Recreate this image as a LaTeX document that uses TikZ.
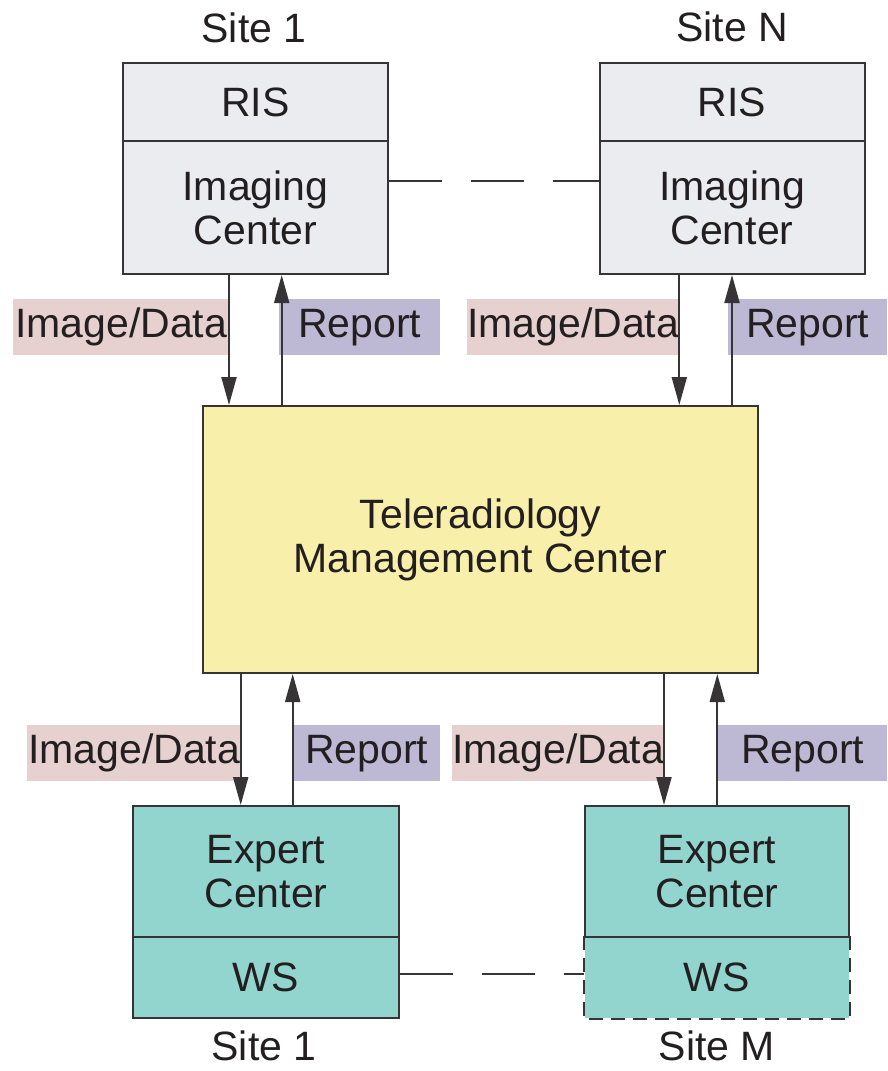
\documentclass[tikz,border=0pt]{standalone}
\usepackage{fontspec}
\setmainfont{Liberation Sans}
\usetikzlibrary{arrows.meta}
\definecolor{txt}{HTML}{231F20}
\definecolor{edge}{HTML}{363435}
\definecolor{grayfill}{HTML}{EBECF0}
\definecolor{yellowfill}{HTML}{F8F0AA}
\definecolor{tealfill}{HTML}{92D5CF}
\definecolor{pinkfill}{HTML}{E7D0D0}
\definecolor{purplefill}{HTML}{BDB8D3}
\tikzset{
  base/.style={text=txt, font=\fontsize{41}{44}\selectfont, align=center, inner sep=0pt},
  box/.style={base, draw=edge, line width=2pt},
  graybox/.style={box, fill=grayfill},
  yellowbox/.style={box, fill=yellowfill},
  tealbox/.style={box, fill=tealfill},
  lab/.style={base, inner sep=0pt, text height=29.5pt, text depth=8.5pt, minimum height=56pt, anchor=north west},
  imglab/.style={lab, fill=pinkfill},
  replab/.style={lab, fill=purplefill},
  arr/.style={draw=edge, line width=2pt, -{Triangle[length=28pt,width=15pt]}},
  longdash/.style={draw=edge, line width=2pt, dash pattern=on 53pt off 29pt},
  sitelab/.style={base, anchor=base},
}
\begin{document}
\begin{tikzpicture}[x=1pt, y=-1pt]
\useasboundingbox (0,0) rectangle (887,1071);

% top sites
\node[sitelab] (site1t) at (254,42) {Site 1};
\node[sitelab] (siteN) at (732,41) {Site N};

\node[graybox, minimum width=265pt, minimum height=79pt] (ris1) at (255.5,102.5) {RIS};
\node[graybox, minimum width=265pt, minimum height=133pt] (ic1) at (255.5,207.5) {Imaging\\Center};
\node[graybox, minimum width=265pt, minimum height=79pt] (ris2) at (732,102.5) {RIS};
\node[graybox, minimum width=265pt, minimum height=133pt] (ic2) at (732,207.5) {Imaging\\Center};

\draw[longdash] ([yshift=26.5pt]ic1.east) -- ([yshift=26.5pt]ic2.west);

% management center
\node[yellowbox, minimum width=555pt, minimum height=267pt] (tmc) at (480.5,539.5) {Teleradiology\\Management Center};

% bottom sites
\node[tealbox, draw=none, minimum width=264pt, minimum height=81pt] (ws2) at (717,977.5) {WS};
\draw[draw=edge, line width=2pt, dash pattern=on 14pt off 8pt]
  (ws2.north west) -- (ws2.south west) -- (ws2.south east) -- (ws2.north east);
\node[tealbox, minimum width=266pt, minimum height=131pt] (ec1) at (266,871.5) {Expert\\Center};
\node[tealbox, minimum width=266pt, minimum height=81pt] (ws1) at (266,977.5) {WS};
\node[tealbox, minimum width=264pt, minimum height=131pt] (ec2) at (717,871.5) {Expert\\Center};

\draw[longdash] ([yshift=4pt]ws1.east) -- ([yshift=4pt]ws2.west);

\node[sitelab] (site1b) at (264,1060) {Site 1};
\node[sitelab] (siteM) at (717,1060) {Site M};

% labels
\node[imglab, minimum width=216pt] (l1) at (13,299) {Image/Data};
\node[replab, minimum width=161pt] (r1) at (279,299) {Report};
\node[imglab, minimum width=212pt] (l2) at (467,299) {Image/Data};
\node[replab, minimum width=159pt] (r2) at (728,299) {Report};
\node[imglab, minimum width=214pt] (l3) at (27,725) {Image/Data};
\node[replab, minimum width=147pt] (r3) at (293,725) {Report};
\node[imglab, minimum width=212pt] (l4) at (452,725) {Image/Data};
\node[replab, minimum width=169pt] (r4) at (718,725) {Report};

% arrows top
\draw[arr] ([xshift=-26.5pt]ic1.south) -- ([xshift=-26.5pt]ic1.south |- tmc.north);
\draw[arr] ([xshift=26.2pt]ic1.south |- tmc.north) -- ([xshift=26.2pt]ic1.south);
\draw[arr] ([xshift=-52.7pt]ic2.south) -- ([xshift=-52.7pt]ic2.south |- tmc.north);
\draw[arr] (ic2.south |- tmc.north) -- (ic2.south);

% arrows bottom
\draw[arr] ([xshift=-25.3pt]ec1.north |- tmc.south) -- ([xshift=-25.3pt]ec1.north);
\draw[arr] ([xshift=26.7pt]ec1.north) -- ([xshift=26.7pt]ec1.north |- tmc.south);
\draw[arr] ([xshift=-53pt]ec2.north |- tmc.south) -- ([xshift=-53pt]ec2.north);
\draw[arr] ([xshift=0.3pt]ec2.north) -- ([xshift=0.3pt]ec2.north |- tmc.south);
\end{tikzpicture}
\end{document}
